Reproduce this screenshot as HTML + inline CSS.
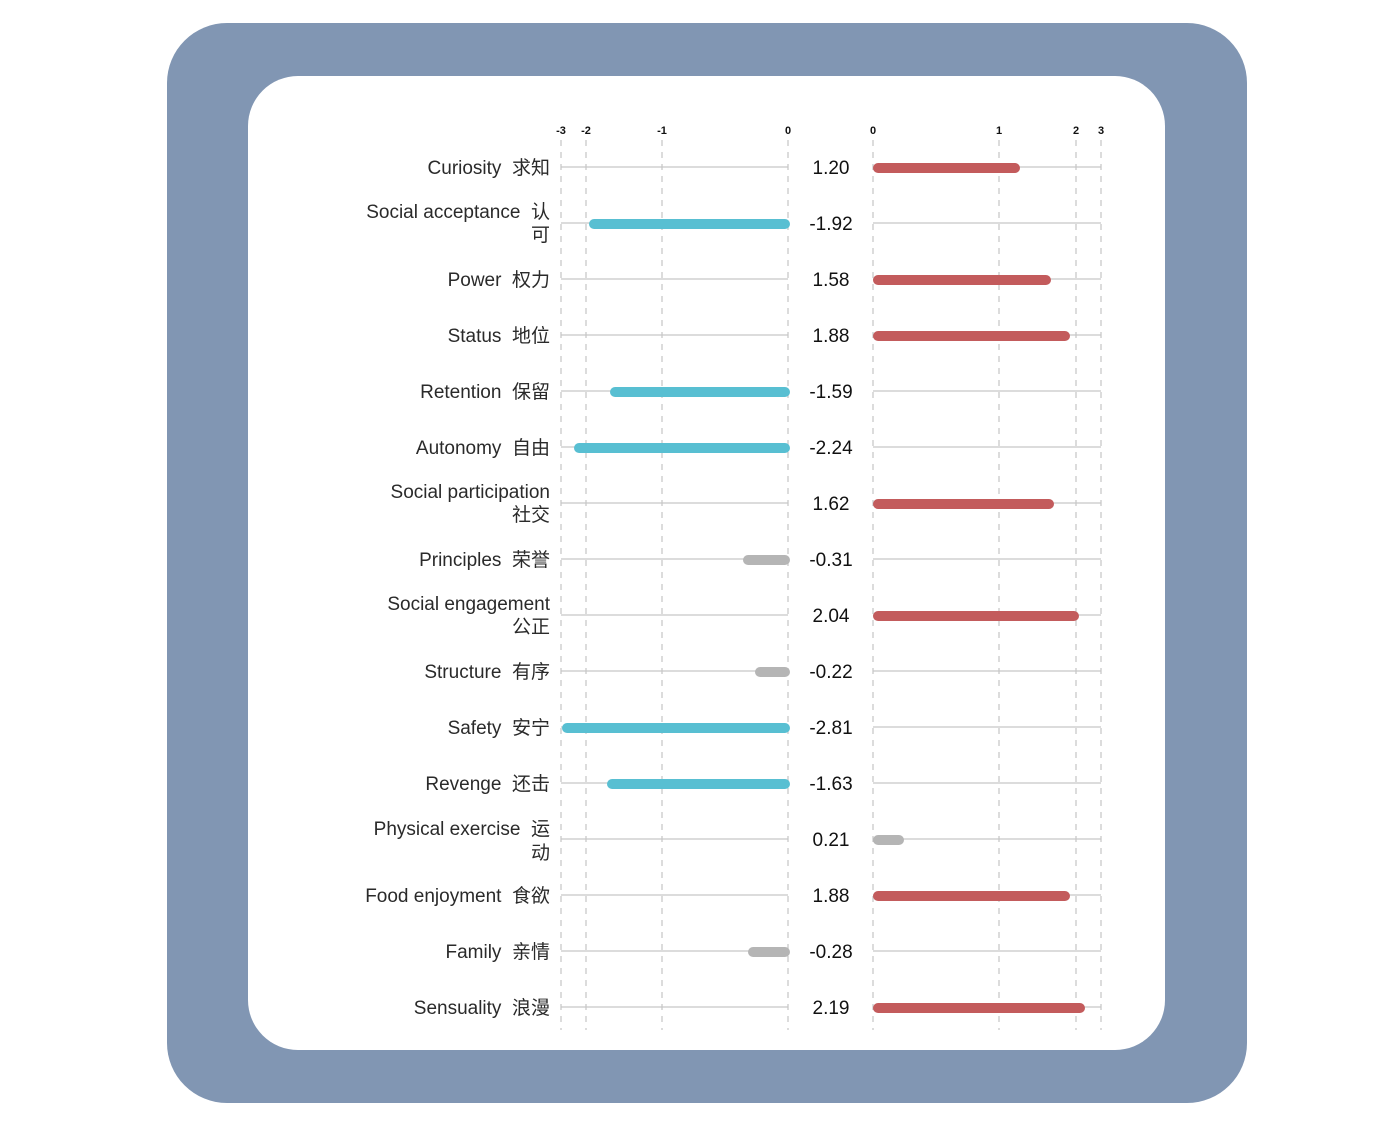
<!DOCTYPE html><html><head><style>body{margin:0;background:#fff}text{white-space:pre}</style></head><body>
<svg width="1388" height="1130" xmlns="http://www.w3.org/2000/svg" font-family="Liberation Sans, Noto Sans CJK SC, sans-serif">
<rect x="167" y="23" width="1080" height="1080" rx="60" fill="#8196b3"/>
<rect x="248" y="76" width="917" height="974" rx="50" fill="#fff"/>
<g stroke="#c4c4c4" stroke-dasharray="6,6" stroke-width="1.2">
<line x1="561" y1="140" x2="561" y2="1030"/><line x1="586" y1="140" x2="586" y2="1030"/><line x1="662" y1="140" x2="662" y2="1030"/><line x1="788" y1="140" x2="788" y2="1030"/>
<line x1="873" y1="140" x2="873" y2="1030"/><line x1="999" y1="140" x2="999" y2="1030"/><line x1="1076" y1="140" x2="1076" y2="1030"/><line x1="1101" y1="140" x2="1101" y2="1030"/>
</g>
<g font-size="11" fill="#111" font-weight="bold" text-anchor="middle">
<text x="561" y="134">-3</text><text x="586" y="134">-2</text><text x="662" y="134">-1</text><text x="788" y="134">0</text>
<text x="873" y="134">0</text><text x="999" y="134">1</text><text x="1076" y="134">2</text><text x="1101" y="134">3</text>
</g>
<g id="rows" stroke="#c8c8c8" stroke-width="1.2"></g>
<g stroke-width="10" stroke-linecap="round" id="bars"></g>
<g font-size="19" fill="#2a2a2a" text-anchor="end" id="labels">
<text x="550" y="174">Curiosity  求知</text>
<text x="550" y="218">Social acceptance  认</text><text x="550" y="241">可</text>
<text x="550" y="286">Power  权力</text>
<text x="550" y="342">Status  地位</text>
<text x="550" y="398">Retention  保留</text>
<text x="550" y="454">Autonomy  自由</text>
<text x="550" y="498">Social participation</text><text x="550" y="521">社交</text>
<text x="550" y="566">Principles  荣誉</text>
<text x="550" y="610">Social engagement</text><text x="550" y="633">公正</text>
<text x="550" y="678">Structure  有序</text>
<text x="550" y="734">Safety  安宁</text>
<text x="550" y="790">Revenge  还击</text>
<text x="550" y="835">Physical exercise  运</text><text x="550" y="859">动</text>
<text x="550" y="902">Food enjoyment  食欲</text>
<text x="550" y="958">Family  亲情</text>
<text x="550" y="1014">Sensuality  浪漫</text>
</g>
<g font-size="19" fill="#111" text-anchor="middle" id="vals"></g>
</svg>
<script>
var vals=["1.20","-1.92","1.58","1.88","-1.59","-2.24","1.62","-0.31","2.04","-0.22","-2.81","-1.63","0.21","1.88","-0.28","2.19"];
var ends=[1018,592,1049,1068,613,577,1052,746,1077,758,565,610,902,1068,751,1083];
var ns="http://www.w3.org/2000/svg";
function el(p,t,a){var e=document.createElementNS(ns,t);for(var k in a)e.setAttribute(k,a[k]);document.getElementById(p).appendChild(e);return e;}
vals.forEach(function(v,i){var y=167+56*i;var n=parseFloat(v);
el("rows","line",{x1:561,x2:788,y1:y,y2:y});el("rows","line",{x1:873,x2:1101,y1:y,y2:y});
var c=Math.abs(n)<0.5?"#b5b5b5":(n<0?"#58bfd2":"#c35b5c");
if(n<0)el("bars","line",{x1:ends[i]+2,x2:785,y1:y+1,y2:y+1,stroke:c});
else el("bars","line",{x1:878,x2:ends[i]-3,y1:y+1,y2:y+1,stroke:c});
el("vals","text",{x:831,y:y+7}).textContent=v;});
</script>
</body></html>
